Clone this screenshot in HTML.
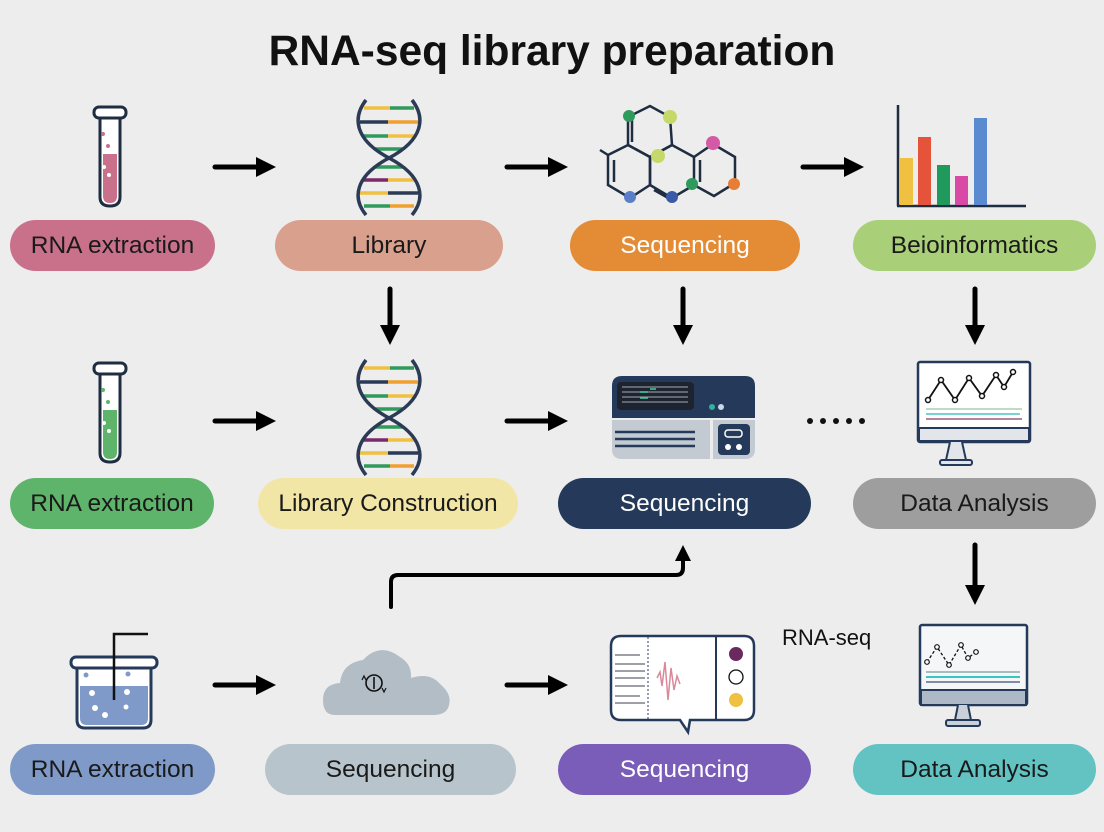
<!DOCTYPE html>
<html><head><meta charset="utf-8"><style>
html,body{margin:0;padding:0;background:#ededed;}
body{width:1104px;height:832px;position:relative;overflow:hidden;font-family:"Liberation Sans",sans-serif;}
.p{position:absolute;height:51px;border-radius:26px;display:flex;align-items:center;justify-content:center;font-size:24.5px;color:#1a1a1a;}
.w{color:#fff;}
h1{position:absolute;top:28px;left:0;width:1104px;text-align:center;margin:0;font-size:42.5px;font-weight:bold;color:#111;}
svg{position:absolute;left:0;top:0;}
</style></head><body>
<svg width="1104" height="832" viewBox="0 0 1104 832">
<defs>
<marker id="ah" markerWidth="4" markerHeight="4" refX="2" refY="2" orient="auto" markerUnits="strokeWidth"><path d="M0,0 L4,2 L0,4 Z" fill="#000"/></marker>
</defs>
<g stroke="#000" stroke-width="5" fill="none" stroke-linecap="round">
<line x1="215" y1="167" x2="266" y2="167" marker-end="url(#ah)"/>
<line x1="507" y1="167" x2="558" y2="167" marker-end="url(#ah)"/>
<line x1="803" y1="167" x2="854" y2="167" marker-end="url(#ah)"/>
<line x1="215" y1="421" x2="266" y2="421" marker-end="url(#ah)"/>
<line x1="507" y1="421" x2="558" y2="421" marker-end="url(#ah)"/>
<line x1="215" y1="685" x2="266" y2="685" marker-end="url(#ah)"/>
<line x1="507" y1="685" x2="558" y2="685" marker-end="url(#ah)"/>
<line x1="390" y1="289" x2="390" y2="335" marker-end="url(#ah)"/>
<line x1="683" y1="289" x2="683" y2="335" marker-end="url(#ah)"/>
<line x1="975" y1="289" x2="975" y2="335" marker-end="url(#ah)"/>
<line x1="975" y1="545" x2="975" y2="595" marker-end="url(#ah)"/>
<path d="M391,607 L391,582 Q391,575 398,575 L676,575 Q683,575 683,568 L683,553" stroke-width="4" marker-end="url(#ah)"/>
</g>
<g fill="#111"><circle cx="810" cy="421" r="3"/><circle cx="823" cy="421" r="3"/><circle cx="836" cy="421" r="3"/><circle cx="849" cy="421" r="3"/><circle cx="862" cy="421" r="3"/></g>

<g>
<path d="M100,118 L100,197 Q100,206 110,206 Q120,206 120,197 L120,118 Z" fill="#fff" stroke="#1f2d40" stroke-width="3"/>
<path d="M103,154 L117,154 L117,196 Q117,203 110,203 Q103,203 103,196 Z" fill="#c9718a"/>
<rect x="94" y="107" width="32" height="11" rx="5" fill="#fff" stroke="#1f2d40" stroke-width="3"/>
<circle cx="103" cy="134" r="2" fill="#c9718a"/><circle cx="108" cy="146" r="2" fill="#c9718a"/><circle cx="104" cy="167" r="2" fill="#fff"/><circle cx="109" cy="175" r="2" fill="#fff"/>
</g>
<g transform="translate(0,256)">
<path d="M100,118 L100,197 Q100,206 110,206 Q120,206 120,197 L120,118 Z" fill="#fff" stroke="#1f2d40" stroke-width="3"/>
<path d="M103,154 L117,154 L117,196 Q117,203 110,203 Q103,203 103,196 Z" fill="#5fb46b"/>
<rect x="94" y="107" width="32" height="11" rx="5" fill="#fff" stroke="#1f2d40" stroke-width="3"/>
<circle cx="103" cy="134" r="2" fill="#5fb46b"/><circle cx="108" cy="146" r="2" fill="#5fb46b"/><circle cx="104" cy="167" r="2" fill="#fff"/><circle cx="109" cy="175" r="2" fill="#fff"/>
</g>
<g id="dna">
<g stroke-width="3.5">
<line x1="364" y1="108" x2="390" y2="108" stroke="#f0c040"/><line x1="390" y1="108" x2="414" y2="108" stroke="#2e9a5c"/>
<line x1="360" y1="122" x2="388" y2="122" stroke="#2b3a55"/><line x1="388" y1="122" x2="418" y2="122" stroke="#f0a030"/>
<line x1="362" y1="136" x2="388" y2="136" stroke="#2e9a5c"/><line x1="388" y1="136" x2="416" y2="136" stroke="#f0c040"/>
<line x1="375" y1="149" x2="403" y2="149" stroke="#2e9a5c"/>
<line x1="375" y1="167" x2="403" y2="167" stroke="#2e9a5c"/>
<line x1="362" y1="180" x2="388" y2="180" stroke="#7a2a6a"/><line x1="388" y1="180" x2="416" y2="180" stroke="#f0c040"/>
<line x1="360" y1="193" x2="388" y2="193" stroke="#f0c040"/><line x1="388" y1="193" x2="418" y2="193" stroke="#2b3a55"/>
<line x1="364" y1="206" x2="390" y2="206" stroke="#2e9a5c"/><line x1="390" y1="206" x2="414" y2="206" stroke="#f0a030"/>
</g>
<g fill="none" stroke="#2b3a55" stroke-width="3.5">
<path d="M366,100 C352,118 355,140 389,158 C423,176 426,198 412,215"/>
<path d="M412,100 C426,118 423,140 389,158 C355,176 352,198 366,215"/>
</g>
</g>
<use href="#dna" transform="translate(0,260)"/>
<g fill="none" stroke="#1f2d40" stroke-width="2.5">
<path d="M628,117 L650,106 L670,117 L672,145 L650,157 L628,145 Z"/>
<path d="M608,155 L628,145 L650,157 L650,185 L630,198 L608,185 Z"/>
<path d="M650,157 L672,145 L694,157 L694,185 L672,198 L650,185 Z"/>
<path d="M694,157 L713,144 L735,157 L735,183 L714,196 L694,185"/>
<line x1="600" y1="150" x2="608" y2="155"/>
<line x1="614" y1="160" x2="614" y2="182"/><line x1="632" y1="113" x2="632" y2="142"/><line x1="654" y1="190" x2="670" y2="199"/><line x1="700" y1="160" x2="700" y2="182"/>
</g>
<g><circle cx="629" cy="116" r="6" fill="#2e9a5c"/><circle cx="670" cy="117" r="7" fill="#c5d96a"/><circle cx="658" cy="156" r="7" fill="#c5d96a"/><circle cx="713" cy="143" r="7" fill="#d45aa5"/><circle cx="630" cy="197" r="6" fill="#5a7ec8"/><circle cx="672" cy="197" r="6" fill="#3a5aa8"/><circle cx="692" cy="184" r="6" fill="#2e9a5c"/><circle cx="734" cy="184" r="6" fill="#e87e35"/></g>
<g>
<line x1="898" y1="105" x2="898" y2="206" stroke="#1f2d40" stroke-width="2.5"/>
<line x1="897" y1="206" x2="1026" y2="206" stroke="#1f2d40" stroke-width="2.5"/>
<rect x="900" y="158" width="13" height="47" fill="#f0c040"/>
<rect x="918" y="137" width="13" height="68" fill="#e5533a"/>
<rect x="937" y="165" width="13" height="40" fill="#1f9a5c"/>
<rect x="955" y="176" width="13" height="29" fill="#d84aa5"/>
<rect x="974" y="118" width="13" height="87" fill="#5a8ad0"/>
</g>
<g>
<path d="M612,386 Q612,376 622,376 L745,376 Q755,376 755,386 L755,418 L612,418 Z" fill="#253a5a"/>
<path d="M612,420 L710,420 L710,459 L622,459 Q612,459 612,449 Z" fill="#c3cad2"/>
<path d="M713,420 L755,420 L755,449 Q755,459 745,459 L713,459 Z" fill="#c3cad2"/>
<rect x="617" y="382" width="77" height="28" rx="4" fill="#1e2330"/>
<g stroke="#8a9098" stroke-width="1.2"><line x1="622" y1="387" x2="688" y2="387"/><line x1="622" y1="392" x2="688" y2="392"/><line x1="622" y1="397" x2="688" y2="397"/><line x1="622" y1="402" x2="688" y2="402"/></g>
<g stroke="#3fcf9f" stroke-width="1.5"><line x1="640" y1="392" x2="648" y2="392"/><line x1="650" y1="389" x2="656" y2="389"/><line x1="640" y1="398" x2="648" y2="398"/></g>
<circle cx="712" cy="407" r="3" fill="#2fb39a"/><circle cx="721" cy="407" r="3" fill="#c8d8ea"/>
<g stroke="#253a5a" stroke-width="2.5"><line x1="615" y1="432" x2="695" y2="432"/><line x1="615" y1="439" x2="695" y2="439"/><line x1="615" y1="446" x2="695" y2="446"/></g>
<rect x="718" y="424" width="32" height="31" rx="4" fill="#253a5a"/>
<rect x="725" y="430" width="17" height="7" rx="3" fill="none" stroke="#fff" stroke-width="1.5"/>
<circle cx="728" cy="447" r="3" fill="#fff"/><circle cx="739" cy="447" r="3" fill="#fff"/>
</g>
<g>
<rect x="918" y="362" width="112" height="80" rx="2" fill="#fff" stroke="#253a5a" stroke-width="2.5"/>
<rect x="919" y="428" width="110" height="13" fill="#e2e6ea" stroke="#253a5a" stroke-width="2"/>
<path d="M950,442 L946,460 L966,460 L962,442" fill="#e2e6ea" stroke="#253a5a" stroke-width="2"/>
<rect x="940" y="460" width="32" height="5" rx="2" fill="#e2e6ea" stroke="#253a5a" stroke-width="2"/>
<polyline points="900,400 913,380 927,400 941,378 954,396 968,375 976,387 985,372" transform="translate(28,0)" fill="none" stroke="#111" stroke-width="1.8"/>
<g fill="#fff" stroke="#111" stroke-width="1.5"><circle cx="928" cy="400" r="2.5"/><circle cx="941" cy="380" r="2.5"/><circle cx="955" cy="400" r="2.5"/><circle cx="969" cy="378" r="2.5"/><circle cx="982" cy="396" r="2.5"/><circle cx="996" cy="375" r="2.5"/><circle cx="1004" cy="387" r="2.5"/><circle cx="1013" cy="372" r="2.5"/></g>
<line x1="926" y1="409" x2="1022" y2="409" stroke="#9ac4a8" stroke-width="1.2"/><line x1="926" y1="414" x2="1020" y2="414" stroke="#4ac4c4" stroke-width="1.5"/><line x1="926" y1="419" x2="1022" y2="419" stroke="#8a3a5a" stroke-width="1.2"/>
</g>
<g>
<rect x="920" y="625" width="107" height="80" rx="2" fill="#f4f6f8" stroke="#253a5a" stroke-width="2.5"/>
<rect x="921" y="690" width="105" height="15" fill="#aeb9c8" stroke="#253a5a" stroke-width="2"/>
<path d="M958,705 L955,720 L971,720 L968,705" fill="#c8d0d8" stroke="#253a5a" stroke-width="2"/>
<rect x="946" y="720" width="34" height="6" rx="2" fill="#c8d0d8" stroke="#253a5a" stroke-width="2"/>
<polyline points="927,662 937,647 949,665 961,645 968,658 976,652" fill="none" stroke="#111" stroke-width="1.3" stroke-dasharray="3,2"/>
<g fill="#fff" stroke="#111" stroke-width="1.2"><circle cx="927" cy="662" r="2.3"/><circle cx="937" cy="647" r="2.3"/><circle cx="949" cy="665" r="2.3"/><circle cx="961" cy="645" r="2.3"/><circle cx="968" cy="658" r="2.3"/><circle cx="976" cy="652" r="2.3"/></g>
<line x1="926" y1="672" x2="1020" y2="672" stroke="#7a9a9a" stroke-width="1.2"/><line x1="926" y1="677" x2="1020" y2="677" stroke="#3ac4c4" stroke-width="2"/><line x1="926" y1="682" x2="1020" y2="682" stroke="#5a6a8a" stroke-width="1.5"/>
</g>
<g>
<path d="M77,668 L77,720 Q77,728 85,728 L143,728 Q151,728 151,720 L151,668 Z" fill="#fff" stroke="#253a5a" stroke-width="3"/>
<path d="M80,686 L148,686 L148,718 Q148,725 141,725 L87,725 Q80,725 80,718 Z" fill="#7f9ac9"/>
<rect x="71" y="657" width="86" height="11" rx="5" fill="#fff" stroke="#253a5a" stroke-width="3"/>
<polyline points="114,700 114,634 148,634" fill="none" stroke="#111" stroke-width="2.5"/>
<g fill="#fff"><circle cx="86" cy="675" r="2.5" fill="#7f9ac9"/><circle cx="128" cy="674" r="2.5" fill="#7f9ac9"/><circle cx="92" cy="693" r="3"/><circle cx="127" cy="692" r="3"/><circle cx="95" cy="708" r="3"/><circle cx="105" cy="715" r="3"/><circle cx="126" cy="707" r="2.5"/></g>
</g>
<g>
<path d="M335,715 Q323,715 323,700 Q323,684 340,683 Q342,663 363,660 Q380,642 400,657 Q412,664 411,678 Q430,672 440,684 Q452,694 449,705 Q447,715 433,715 Z" fill="#b2bdc5"/>
<circle cx="374" cy="683" r="8" fill="none" stroke="#111" stroke-width="1.6"/>
<line x1="374" y1="677" x2="374" y2="689" stroke="#111" stroke-width="1.6"/>
<path d="M362,680 L364,676 L366,680 M382,688 L384,692 L386,688" fill="none" stroke="#111" stroke-width="1.2"/>
</g>
<g>
<path d="M621,636 Q611,636 611,646 L611,710 Q611,720 621,720 L680,720 L688,732 L690,720 L744,720 Q754,720 754,710 L754,646 Q754,636 744,636 Z" fill="#fff" stroke="#253a5a" stroke-width="2.5"/>
<line x1="716" y1="637" x2="716" y2="719" stroke="#253a5a" stroke-width="2"/>
<line x1="648" y1="637" x2="648" y2="719" stroke="#253a5a" stroke-width="1" stroke-dasharray="2,2"/>
<g stroke="#667" stroke-width="1.2"><line x1="615" y1="655" x2="640" y2="655"/><line x1="615" y1="664" x2="645" y2="664"/><line x1="615" y1="671" x2="645" y2="671"/><line x1="615" y1="678" x2="645" y2="678"/><line x1="615" y1="686" x2="645" y2="686"/><line x1="615" y1="696" x2="640" y2="696"/><line x1="615" y1="703" x2="645" y2="703"/></g>
<path d="M657,678 L660,672 L662,686 L665,662 L668,700 L671,668 L674,690 L677,676 L680,684" fill="none" stroke="#d98a9a" stroke-width="1.5"/>
<circle cx="736" cy="654" r="7" fill="#6a2a60"/><circle cx="736" cy="677" r="7" fill="#fff" stroke="#111" stroke-width="1.3"/><circle cx="736" cy="700" r="7" fill="#f0c040"/>
</g>
<text x="782" y="645" font-family="Liberation Sans, sans-serif" font-size="22" fill="#111">RNA-seq</text>
</svg>
<h1>RNA-seq library preparation</h1>
<div class="p" style="left:10px;top:220px;width:205px;background:#c9718a">RNA extraction</div>
<div class="p" style="left:275px;top:220px;width:228px;background:#d9a08e">Library</div>
<div class="p w" style="left:570px;top:220px;width:230px;background:#e48b35">Sequencing</div>
<div class="p" style="left:853px;top:220px;width:243px;background:#a9cf78">Beioinformatics</div>
<div class="p" style="left:10px;top:478px;width:204px;background:#5fb46b">RNA extraction</div>
<div class="p" style="left:258px;top:478px;width:260px;background:#f2e6a6">Library Construction</div>
<div class="p w" style="left:558px;top:478px;width:253px;background:#253a5a">Sequencing</div>
<div class="p" style="left:853px;top:478px;width:243px;background:#9e9e9e">Data Analysis</div>
<div class="p" style="left:10px;top:744px;width:205px;background:#7f9ac9">RNA extraction</div>
<div class="p" style="left:265px;top:744px;width:251px;background:#b8c4cb">Sequencing</div>
<div class="p w" style="left:558px;top:744px;width:253px;background:#7a5cb9">Sequencing</div>
<div class="p" style="left:853px;top:744px;width:243px;background:#63c3c3">Data Analysis</div>
</body></html>
